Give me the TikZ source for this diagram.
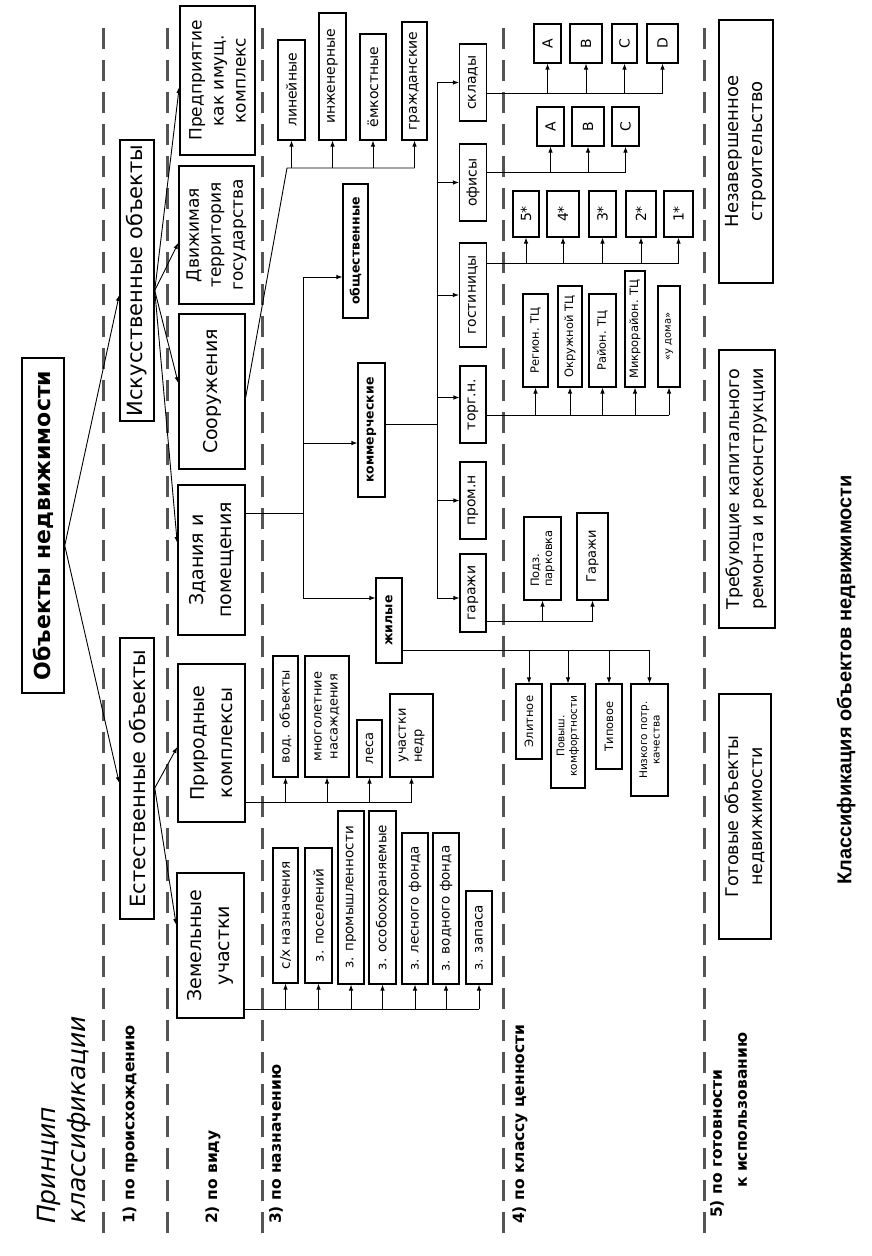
\documentclass[tikz,border=0pt]{standalone}
\usepackage{fontspec}
\setmainfont{DejaVu Sans}
\newfontfamily\capfont{Liberation Sans}
\usepackage{xcolor}
\usepackage{tikz}
\usetikzlibrary{arrows.meta}
\definecolor{sepgray}{RGB}{85,85,85}
\newcommand{\fsz}[2]{\fontsize{#1}{#2}\selectfont}

\tikzset{
  box/.style={draw, line width=1.5pt, rotate=90, inner sep=1pt, align=center},
  sbox/.style={box, line width=1.1pt},
  wh/.style 2 args={minimum height=#1pt, minimum width=#2pt},
  conn/.style={line width=0.9pt},
  lbl/.style={rotate=90, inner sep=0pt, anchor=west, font=\bfseries\fsz{15.5}{19}},
  sepline/.style={line width=3pt, sepgray, dash pattern=on 21pt off 11pt}
}

\begin{document}
\begin{tikzpicture}[x=1pt, y=-1pt, >={Latex[length=6pt,width=4.5pt]}]
\useasboundingbox (0,0) rectangle (872,1256);

% separators between the levels
\foreach \x in {103,167,262,503,704}
  \draw[sepline] (\x,28) -- (\x,1236);

% root
\node[box, wh={42}{335}, font=\bfseries\fsz{22}{26}] (root) at (43,525.5) {Объекты недвижимости};

% 1) origin
\node[box, wh={34}{281}, font=\fsz{21}{25}] (isk) at (137,280.5) {Искусственные объекты};
\node[box, wh={34}{281}, font=\fsz{21}{25}] (est) at (137,778.5) {Естественные объекты};

% 2) kind
\node[box, wh={75}{149}, font=\fsz{17}{22}] (pred) at (217.5,80.5) {Предприятие\\как имущ.\\комплекс};
\node[box, wh={75}{138}, font=\fsz{17}{22}] (dvig) at (216.5,235) {Движимая\\территория\\государства};
\node[box, wh={66}{155}, font=\fsz{19}{28}] (soor) at (212,391.5) {Сооружения};
\node[box, wh={67}{150}, font=\fsz{19}{28}] (zdan) at (211.5,560) {Здания и\\помещения};
\node[box, wh={67}{158}, font=\fsz{19}{28}] (prir) at (211.5,743) {Природные\\комплексы};
\node[box, wh={67}{145}, font=\fsz{19}{28}] (zem) at (210.5,945.5) {Земельные\\участки};

% 3) purpose
\node[sbox, wh={27}{100}, font=\fsz{14}{17}] (lin) at (291.5,90) {линейные};
\node[sbox, wh={27}{127}, font=\fsz{14}{17}] (inzh) at (332.5,76.5) {инженерные};
\node[sbox, wh={26}{106}, font=\fsz{14}{17}] (emk) at (373,87) {ёмкостные};
\node[sbox, wh={25}{118}, font=\fsz{14}{17}] (grazh) at (414.5,81) {гражданские};

\node[sbox, wh={25}{134}, font=\bfseries\fsz{12.5}{15}] (obsh) at (355.5,251) {общественные};
\node[sbox, wh={27}{134}, font=\bfseries\fsz{12.5}{15}] (komm) at (371.5,430) {коммерческие};
\node[sbox, wh={26}{85}, font=\bfseries\fsz{12.5}{15}] (zhil) at (389,620.5) {жилые};

\node[sbox, wh={25}{121}, font=\fsz{13}{16}] (vod) at (285.5,716.5) {вод. объекты};
\node[sbox, wh={44}{121}, font=\fsz{13}{16}] (mn) at (327,716.5) {многолетние\\насаждения};
\node[sbox, wh={25}{57}, font=\fsz{13}{16}] (les) at (369.5,748.5) {леса};
\node[sbox, wh={43}{83}, font=\fsz{13}{16}, align=left] (un) at (411.5,735.5) {участки\\недр};

\node[sbox, wh={25}{135}, font=\fsz{13.5}{16}] (z1) at (285.5,915.5) {с/х назначения};
\node[sbox, wh={27}{135}, font=\fsz{13.5}{16}] (z2) at (318.5,915.5) {з. поселений};
\node[sbox, wh={26}{173}, font=\fsz{13.5}{16}] (z3) at (351,897.5) {з. промышленности};
\node[sbox, wh={27}{173}, font=\fsz{13.5}{16}] (z4) at (382.5,897.5) {з. особоохраняемые};
\node[sbox, wh={26}{151}, font=\fsz{13.5}{16}] (z5) at (415,908.5) {з. лесного фонда};
\node[sbox, wh={26}{151}, font=\fsz{13.5}{16}] (z6) at (446,908.5) {з. водного фонда};
\node[sbox, wh={26}{93}, font=\fsz{13.5}{16}] (z7) at (479,937.5) {з. запаса};

\node[sbox, wh={27}{77}, font=\fsz{14}{17}] (skl) at (473,82.5) {склады};
\node[sbox, wh={27}{77}, font=\fsz{14}{17}] (ofis) at (473,182.5) {офисы};
\node[sbox, wh={27}{104}, font=\fsz{14}{17}] (gost) at (473,295) {гостиницы};
\node[sbox, wh={26}{77}, font=\fsz{14}{17}] (torg) at (473,404.5) {торг.н.};
\node[sbox, wh={26}{77}, font=\fsz{14}{17}] (prom) at (473,500.5) {пром.н};
\node[sbox, wh={26}{78}, font=\fsz{14}{17}] (gar) at (473,593) {гаражи};

% 4) value class
\node[sbox, wh={27}{39}, font=\fsz{14}{17}] (skA) at (547.5,43.5) {A};
\node[sbox, wh={32}{39}, font=\fsz{14}{17}] (skB) at (586,43.5) {B};
\node[sbox, wh={25}{39}, font=\fsz{14}{17}] (skC) at (624.5,43.5) {C};
\node[sbox, wh={31}{39}, font=\fsz{14}{17}] (skD) at (662.5,43.5) {D};

\node[sbox, wh={27}{39}, font=\fsz{14}{17}] (ofA) at (550.5,126.5) {A};
\node[sbox, wh={32}{39}, font=\fsz{14}{17}] (ofB) at (588,126.5) {B};
\node[sbox, wh={27}{39}, font=\fsz{14}{17}] (ofC) at (625.5,126.5) {C};

\node[sbox, wh={26}{46}, font=\fsz{14}{17}] (s5) at (526,214) {5*};
\node[sbox, wh={32}{46}, font=\fsz{14}{17}] (s4) at (563,214) {4*};
\node[sbox, wh={27}{46}, font=\fsz{14}{17}] (s3) at (602.5,214) {3*};
\node[sbox, wh={30}{46}, font=\fsz{14}{17}] (s2) at (641,214) {2*};
\node[sbox, wh={29}{46}, font=\fsz{14}{17}] (s1) at (678.5,214) {1*};

\node[sbox, wh={25}{93}, font=\fsz{11.5}{13}] (tc1) at (535.5,340.5) {Регион. ТЦ};
\node[sbox, wh={24}{101}, font=\fsz{11.5}{13}] (tc2) at (570,336.5) {Окружной ТЦ};
\node[sbox, wh={27}{93}, font=\fsz{11.5}{13}] (tc3) at (602.5,340.5) {Район. ТЦ};
\node[sbox, wh={20}{116}, font=\fsz{11.5}{13}] (tc4) at (635,329) {Микрорайон. ТЦ};
\node[sbox, wh={22}{101}, font=\fsz{10}{12}] (tc5) at (669,336.5) {«у дома»};

\node[sbox, wh={37}{83}, font=\fsz{11.5}{13}, align=left] (pp) at (542.5,558.5) {Подз.\\парковка};
\node[sbox, wh={31}{87}, font=\fsz{13}{15}] (gg) at (592.5,556.5) {Гаражи};

\node[sbox, wh={26}{75}, font=\fsz{11.5}{13}] (el) at (529,721.5) {Элитное};
\node[sbox, wh={34}{104}, font=\fsz{10.5}{12.5}] (pk) at (568,736) {Повыш.\\комфортности};
\node[sbox, wh={26}{85}, font=\fsz{11.5}{13}] (tip) at (609,726.5) {Типовое};
\node[sbox, wh={37}{112}, font=\fsz{10.5}{12.5}] (nk) at (649.5,740) {Низкого потр.\\качества};

% 5) readiness
\node[box, wh={54}{263}, font=\fsz{18}{24}] (nez) at (746,151.5) {Незавершенное\\строительство};
\node[box, wh={56}{278}, font=\fsz{17.5}{24}] (treb) at (747,489) {Требующие капитального\\ремонта и реконструкции};
\node[box, wh={52}{245}, font=\fsz{17.5}{24}] (got) at (745,816.5) {Готовые объекты\\недвижимости};

% level labels
\node[rotate=90, inner sep=0pt, anchor=north west, align=left, font=\itshape\fsz{25}{30}] (prin) at (37,1224) {Принцип\\классификации};
\node[lbl] (l1) at (130,1224) {1) по происхождению};
\node[lbl] (l2) at (213,1224) {2) по виду};
\node[lbl] (l3) at (276,1224) {3) по назначению};
\node[lbl] (l4) at (520,1224) {4) по классу ценности};
\node[lbl, align=left, font=\bfseries\fsz{15.5}{25}] (l5) at (728.5,1218) {5)~по готовности\\\hspace*{30pt}к использованию};

\node[rotate=90, font=\capfont\bfseries\fsz{20}{24}] (cap) at (846,680) {Классификация объектов недвижимости};

% root -> origin
\draw[conn,->] ([yshift=-20pt]root.south) -- ([yshift=-14.5pt]isk.north);
\draw[conn,->] ([yshift=-20pt]root.south) -- ([yshift=-4.5pt]est.north);

% origin -> kind
\foreach \b/\s in {pred/-6.5, dvig/-8, soor/8.5, zdan/17}
  \draw[conn,->] ([yshift=-10pt]isk.south) -- ([yshift=\s pt]\b.north);
\draw[conn,->] ([yshift=-9.5pt]est.south) -- ([yshift=-4pt]prir.north);
\draw[conn,->] ([yshift=-9.5pt]est.south) -- ([yshift=20.5pt]zem.north);

% structures
\coordinate (sobus) at (287,168);
\draw[conn] ([yshift=-5.5pt]soor.south) -- (sobus) -- (sobus -| grazh.west);
\foreach \b in {lin,inzh,emk,grazh}
  \draw[conn,->] (sobus -| \b.west) -- (\b.west);

% buildings
\coordinate (nbtop) at (303,277);
\coordinate (zd) at ([yshift=47pt]zdan.south);
\coordinate (kin) at ([yshift=-13pt]komm.north);
\coordinate (zin) at ([yshift=22.5pt]zhil.north);
\draw[conn] (zd) -- (zd -| nbtop);
\draw[conn,->] (nbtop) |- (zin);
\draw[conn,->] (nbtop) -- (nbtop -| obsh.north);
\draw[conn,->] (kin -| nbtop) -- (kin);

% commercial
\coordinate (cbus) at (437,82.5);
\coordinate (km) at ([yshift=6pt]komm.south);
\draw[conn] (km) -- (km -| cbus);
\draw[conn,->] (cbus) |- ([yshift=-5pt]gar.north);
\foreach \b in {skl,ofis,gost,prom}
  \draw[conn,->] (\b.north -| cbus) -- (\b.north);
\coordinate (tin) at ([yshift=7pt]torg.north);
\draw[conn,->] (tin -| cbus) -- (tin);

% value classes
\coordinate (skb) at ([yshift=-10.5pt]skl.south);
\draw[conn] (skb) -- (skb -| skD.west);
\foreach \b in {skA,skB,skC,skD}
  \draw[conn,->] (skb -| \b.west) -- (\b.west);

\coordinate (ofb) at ([yshift=10.5pt]ofis.south);
\draw[conn] (ofb) -- (ofb -| ofC.west);
\foreach \b in {ofA,ofB,ofC}
  \draw[conn,->] (ofb -| \b.west) -- (\b.west);

\coordinate (gob) at ([yshift=32pt]gost.south);
\draw[conn] (gob) -- (gob -| s1.west);
\foreach \b in {s5,s4,s3,s2,s1}
  \draw[conn,->] (gob -| \b.west) -- (\b.west);

\coordinate (tob) at ([yshift=-10.5pt]torg.south);
\draw[conn] (tob) -- (tob -| tc5.west);
\foreach \b in {tc1,tc2,tc3,tc4,tc5}
  \draw[conn,->] (tob -| \b.west) -- (\b.west);

\coordinate (gab) at ([yshift=-28pt]gar.south);
\draw[conn] (gab) -- (gab -| gg.west);
\foreach \b in {pp,gg}
  \draw[conn,->] (gab -| \b.west) -- (\b.west);

\coordinate (zhb) at ([yshift=-29.5pt]zhil.south);
\draw[conn] (zhb) -- (zhb -| nk.east);
\foreach \b in {el,pk,tip,nk}
  \draw[conn,->] (zhb -| \b.east) -- (\b.east);

% natural complexes and land
\coordinate (prb) at ([yshift=-59pt]prir.south);
\draw[conn] (prb) -- (prb -| un.west);
\foreach \b in {vod,mn,les,un}
  \draw[conn,->] (prb -| \b.west) -- (\b.west);

\coordinate (zeb) at ([yshift=-63.5pt]zem.south);
\draw[conn] (zeb) -- (zeb -| z7.west);
\foreach \b in {z1,z2,z3,z4,z5,z6,z7}
  \draw[conn,->] (zeb -| \b.west) -- (\b.west);
\end{tikzpicture}
\end{document}
